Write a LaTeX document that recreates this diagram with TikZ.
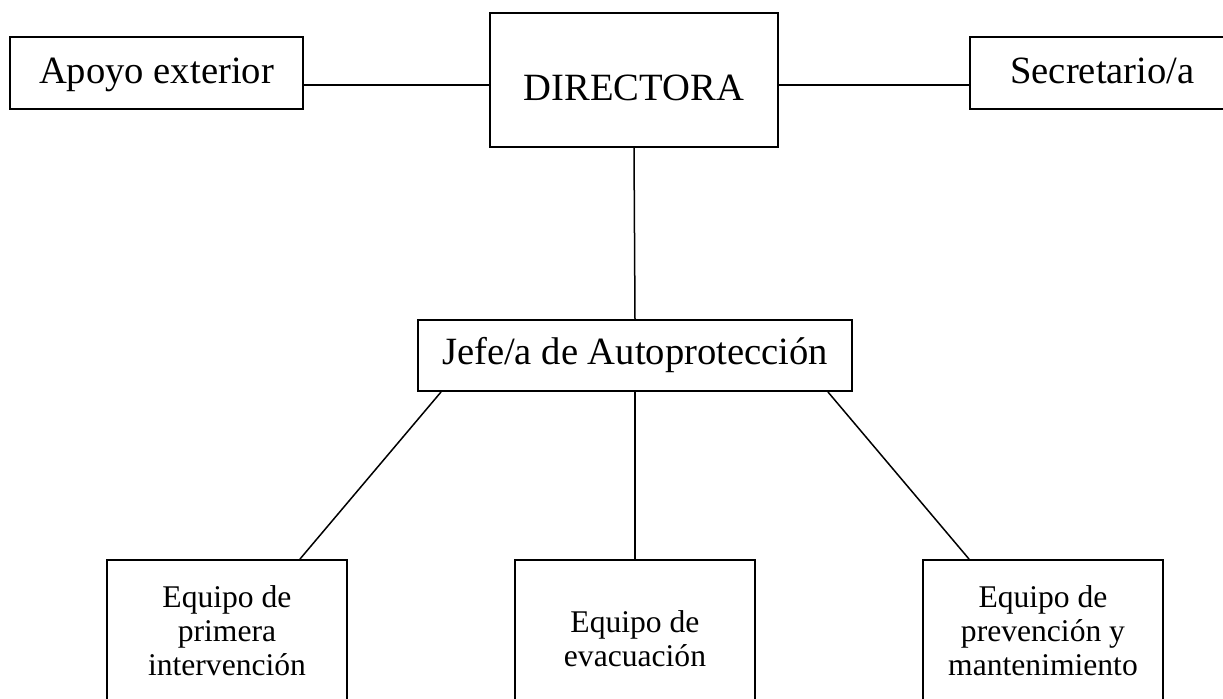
\documentclass[tikz,border=0pt]{standalone}
\usepackage{fontspec}
\setmainfont{Liberation Serif}
\usetikzlibrary{positioning,calc}

\begin{document}
\begin{tikzpicture}[
    x=0.5pt, y=-0.5pt,
    box/.style={
        draw=black, fill=white, line width=1pt,
        inner sep=0pt, align=center,
        font=\fontsize{19.3pt}{22pt}\selectfont
    },
    teambox/.style={
        draw=black, fill=white, line width=1pt,
        minimum width=120pt, minimum height=71pt,
        inner sep=0pt, align=center,
        font=\fontsize{15.8pt}{17pt}\selectfont
    },
    link/.style={draw=black, line width=0.75pt},
]

% === Page frame ===
\clip (0,0) rectangle (1223,698);

% === Top Row ===
\node[box, minimum width=144pt, minimum height=67pt,
    text height=20pt, text depth=0pt] (directora) at (634,80) {DIRECTORA};
\node[box, minimum width=146.5pt, minimum height=36pt,
    text height=13pt, text depth=3pt] (apoyo) at (156.5,73) {Apoyo exterior};
\node[box, minimum width=132.5pt, minimum height=36pt,
    text height=13pt, text depth=3pt] (secretaria) at (1102.5,73) {Secretario/a};

% === Middle Row ===
\node[box, minimum width=217pt, minimum height=35.5pt] (jefe) at (635,355.5) {Jefe/a de Autoprotección};

% === Bottom Row: Teams ===
\node[teambox] (primera) at (227,631) {Equipo de\\primera\\intervención};
\node[teambox, minimum height=79pt] (evacuacion) at (635,639) {Equipo de\\evacuación};
\node[teambox] (prevencion) at (1043,631) {Equipo de\\prevención y\\mantenimiento};

% === Links ===
% Director -> sides
\draw[link] ([yshift=-2.5pt]directora.west) -- ([yshift=-2.5pt]directora.west -| apoyo.east);
\draw[link] ([yshift=-2.5pt]directora.east) -- ([yshift=-2.5pt]directora.east -| secretaria.west);

% Director -> Jefe
\draw[link] (directora.south) -- (jefe.north);

% Jefe -> teams
\draw[link] ([xshift=12pt]jefe.south west) -- ([xshift=36.5pt]primera.north);
\draw[link] (jefe.south) -- (evacuacion.north);
\draw[link] ([xshift=-12.5pt]jefe.south east) -- ([xshift=-37pt]prevencion.north);

\end{tikzpicture}
\end{document}
